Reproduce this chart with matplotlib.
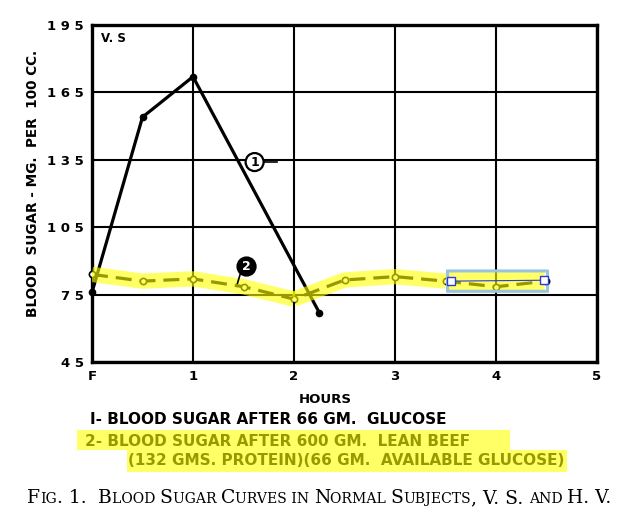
#!/usr/bin/env python3
"""Blood sugar curves, subject V. S. (scanned figure with yellow highlights)."""

import matplotlib
matplotlib.use('Agg')
import matplotlib.pyplot as plt
from matplotlib.patches import FancyBboxPatch, Rectangle
from matplotlib.offsetbox import TextArea, HPacker, AnchoredOffsetbox

# x: 0 = fasting ("F"), then hours
glucose_hours = [0, 0.5, 1, 2.25]
glucose_sugar = [76, 154, 172, 67]

beef_hours = [0, 0.5, 1, 1.5, 2, 2.5, 3, 3.5, 4, 4.5]
beef_sugar = [84, 81, 82, 78.5, 73, 81.5, 83, 81, 78.5, 81]

x_ticks = [0, 1, 2, 3, 4, 5]
x_tick_labels = ['F', '1', '2', '3', '4', '5']
y_ticks = [45, 75, 105, 135, 165, 195]

HL = '#ffff00'

def main():
  fig = plt.figure(figsize=(6.2, 5.19), dpi=100)
  ax = fig.add_axes([0.1484, 0.3025, 0.8145, 0.6493])

  ax.set_xlim(0, 5)
  ax.set_ylim(45, 195)
  ax.set_xticks(x_ticks)
  ax.set_xticklabels(x_tick_labels)
  ax.set_yticks(y_ticks)
  ax.set_yticklabels([' '.join(str(v)) for v in y_ticks])
  ax.tick_params(length=0, labelsize=9.5, pad=6)
  for lab in ax.get_xticklabels() + ax.get_yticklabels():
    lab.set_fontweight('bold')
  ax.grid(True, color='black', linewidth=1.5)
  ax.set_axisbelow(True)
  for s in ax.spines.values():
    s.set_linewidth(2.4)

  ax.set_xlabel('HOURS', fontsize=9.5, fontweight='bold')
  ax.xaxis.set_label_coords(0.461, -0.092)
  ax.set_ylabel('BLOOD  SUGAR - MG.  PER  100 CC.', fontsize=9.8,
                fontweight='bold')
  ax.yaxis.set_label_coords(-0.103, 0.53)

  # curve 1
  ax.plot(glucose_hours, glucose_sugar, color='black', lw=2.3,
          marker='o', ms=4.5, zorder=3, clip_on=False)
  # curve 2
  ax.plot(beef_hours, beef_sugar, color='black', lw=2.3, dashes=(5, 2.5),
          marker='o', ms=4.5, mfc='white', mew=1.2, zorder=3, clip_on=False)

  # yellow highlighter over curve 2
  ax.plot(beef_hours[:5], beef_sugar[:5], color=HL, lw=11, alpha=0.6,
          solid_capstyle='butt', zorder=4)
  ax.plot(beef_hours[4:8], beef_sugar[4:8], color=HL, lw=11, alpha=0.6,
          solid_capstyle='butt', zorder=4)
  box = FancyBboxPatch((3.55, 77.0), 0.9, 8.0,
                       boxstyle='round,pad=0.03,rounding_size=0.05',
                       fc=HL, alpha=0.6, ec='none', zorder=4)
  ax.add_patch(box)
  sel = FancyBboxPatch((3.55, 76.5), 0.93, 9.0,
                       boxstyle='round,pad=0.03,rounding_size=0.06',
                       fc='none', ec='#9cc3dc', lw=2.2, zorder=5)
  ax.add_patch(sel)
  ax.plot([3.55, 4.48], [81, 81.4], color='#2b3bd6', lw=0.8, zorder=6)
  ax.plot([3.55, 4.48], [81, 81.4], ls='none', marker='s', ms=6,
          mfc='white', mec='#2b3bd6', mew=1, zorder=6)

  # curve labels
  ax.text(1.61, 134, '1', ha='center', va='center', fontsize=9,
          fontweight='bold', zorder=6,
          bbox=dict(boxstyle='circle,pad=0.2', fc='white', ec='black', lw=1.6))
  ax.plot([1.7, 1.83], [134, 134], color='black', lw=1.2, zorder=5)
  ax.text(1.53, 87.5, '2', ha='center', va='center', fontsize=9,
          fontweight='bold', color='white', zorder=6,
          bbox=dict(boxstyle='circle,pad=0.2', fc='black', ec='black', lw=1.6))
  ax.plot([1.47, 1.44], [84.5, 80], color='black', lw=1.2, zorder=5)

  ax.text(0.09, 189, 'V. S', fontsize=8.5, fontweight='bold', va='center')

  # legend
  fig.text(0.145, 0.191, 'I- BLOOD SUGAR AFTER 66 GM.  GLUCOSE', fontsize=11,
           fontweight='bold', va='center')
  fig.text(0.137, 0.150, '2- BLOOD SUGAR AFTER 600 GM.  LEAN BEEF', fontsize=11,
           fontweight='bold', va='center')
  fig.text(0.206, 0.113, '(132 GMS. PROTEIN)(66 GM.  AVAILABLE GLUCOSE)',
           fontsize=11, fontweight='bold', va='center')
  fig.patches.append(Rectangle((77 / 620, 1 - 450 / 519), 433 / 620, 20 / 519,
                               transform=fig.transFigure, fc=HL, alpha=0.6,
                               ec='none', zorder=5))
  fig.patches.append(Rectangle((127 / 620, 1 - 472 / 519), 440 / 620, 22 / 519,
                               transform=fig.transFigure, fc=HL, alpha=0.6,
                               ec='none', zorder=5))

  # caption in small caps
  big, small = 13.5, 10.1
  parts = [('F', big), ('IG', small), ('. 1.  ', big), ('B', big), ('LOOD ', small),
           ('S', big), ('UGAR ', small), ('C', big), ('URVES IN ', small),
           ('N', big), ('ORMAL ', small), ('S', big), ('UBJECTS', small),
           (', V. S. ', big), ('AND ', small), ('H. V.', big)]
  areas = [TextArea(t, textprops=dict(fontsize=s, family='DejaVu Serif'))
           for t, s in parts]
  pack = HPacker(children=areas, align='baseline', pad=0, sep=0)
  anchored = AnchoredOffsetbox(loc='center', child=pack, frameon=False,
                               bbox_to_anchor=(0.515, 0.040),
                               bbox_transform=fig.transFigure, pad=0)
  fig.add_artist(anchored)

  fig.savefig('out.png', dpi=100)


if __name__ == "__main__":
  main()
